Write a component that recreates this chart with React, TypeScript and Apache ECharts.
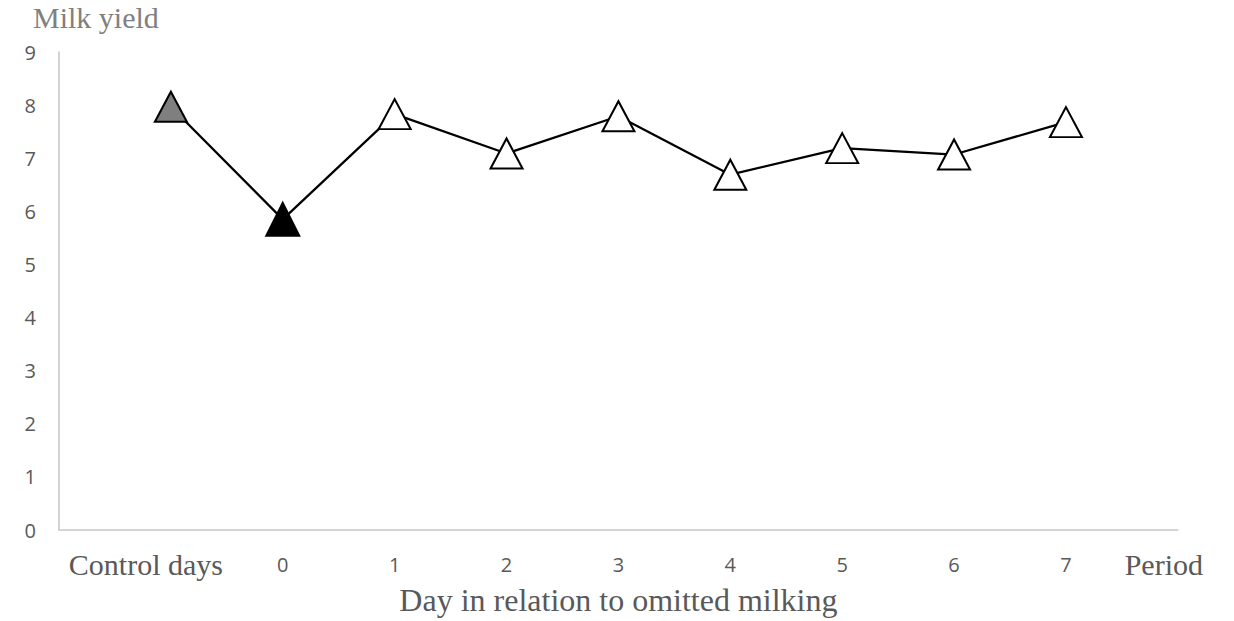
import React, { useEffect, useRef } from "react";
import * as echarts from "echarts";

const categories = ["", "Control days", "0", "1", "2", "3", "4", "5", "6", "7", "Period"];
const milkYield: (number | string)[] = ["-", 7.97, 5.85, 7.83, 7.09, 7.79, 6.69, 7.19, 7.07, 7.68, "-"];
const markerFills = ["#ffffff", "#7f7f7f", "#000000", "#ffffff", "#ffffff", "#ffffff", "#ffffff", "#ffffff", "#ffffff", "#ffffff", "#ffffff"];
const yTicks = { min: 0, max: 9, interval: 1 };

const SERIF = "'Liberation Serif', 'Times New Roman', serif";
const SANS = "'Open Sans', 'Noto Sans', sans-serif";

export default function App() {
  const ref = useRef<HTMLDivElement>(null);
  useEffect(() => {
    if (!ref.current) return;
    const chart = echarts.init(ref.current, null, { renderer: "svg" });
    chart.setOption({
      animation: false,
      backgroundColor: "#ffffff",
      title: {
        text: "Milk yield",
        left: 28,
        top: -3,
        textStyle: { fontFamily: SERIF, fontSize: 30, fontWeight: "normal", color: "#808080" },
      },
      grid: { left: 59, right: 32, top: 52, bottom: 80, containLabel: false },
      xAxis: {
        type: "category",
        boundaryGap: false,
        data: categories.map((c) => {
          if (c === "Control days") {
            return { value: c, textStyle: { fontFamily: SERIF, fontSize: 30, lineHeight: 20, padding: [0, 50, 0, 0] } };
          }
          if (c === "Period") {
            return { value: c, textStyle: { fontFamily: SERIF, fontSize: 30, lineHeight: 20, padding: [0, 28, 0, 0] } };
          }
          return c;
        }),
        axisLine: { show: true, lineStyle: { color: "#c6c6c6", width: 1.5 } },
        axisTick: { show: false },
        axisLabel: {
          interval: 0,
          color: "#595959",
          fontFamily: SANS,
          fontSize: 20,
          lineHeight: 20,
          margin: 24,
        },
        splitLine: { show: false },
        name: "Day in relation to omitted milking",
        nameLocation: "middle",
        nameGap: 40,
        nameTextStyle: { fontFamily: SERIF, fontSize: 32, color: "#595959" },
      },
      yAxis: {
        type: "value",
        min: yTicks.min,
        max: yTicks.max,
        interval: yTicks.interval,
        axisLine: { show: true, lineStyle: { color: "#c6c6c6", width: 1.5 } },
        axisTick: { show: false },
        splitLine: { show: false },
        axisLabel: { color: "#595959", fontFamily: SANS, fontSize: 20, margin: 23 },
      },
      series: [
        {
          type: "line",
          data: milkYield.map((v, i) => ({
            value: v,
            symbolSize: i === 2 ? [33, 33] : [32, 30],
            itemStyle: { color: markerFills[i], borderColor: "#000000", borderWidth: 2 },
          })),
          symbol: "triangle",
          showAllSymbol: true,
          lineStyle: { color: "#000000", width: 2.25 },
          connectNulls: false,
          z: 3,
        },
      ],
    });
    return () => chart.dispose();
  }, []);
  return <div ref={ref} style={{ width: 1234, height: 621, position: "absolute", left: 0, top: 0 }} />;
}
